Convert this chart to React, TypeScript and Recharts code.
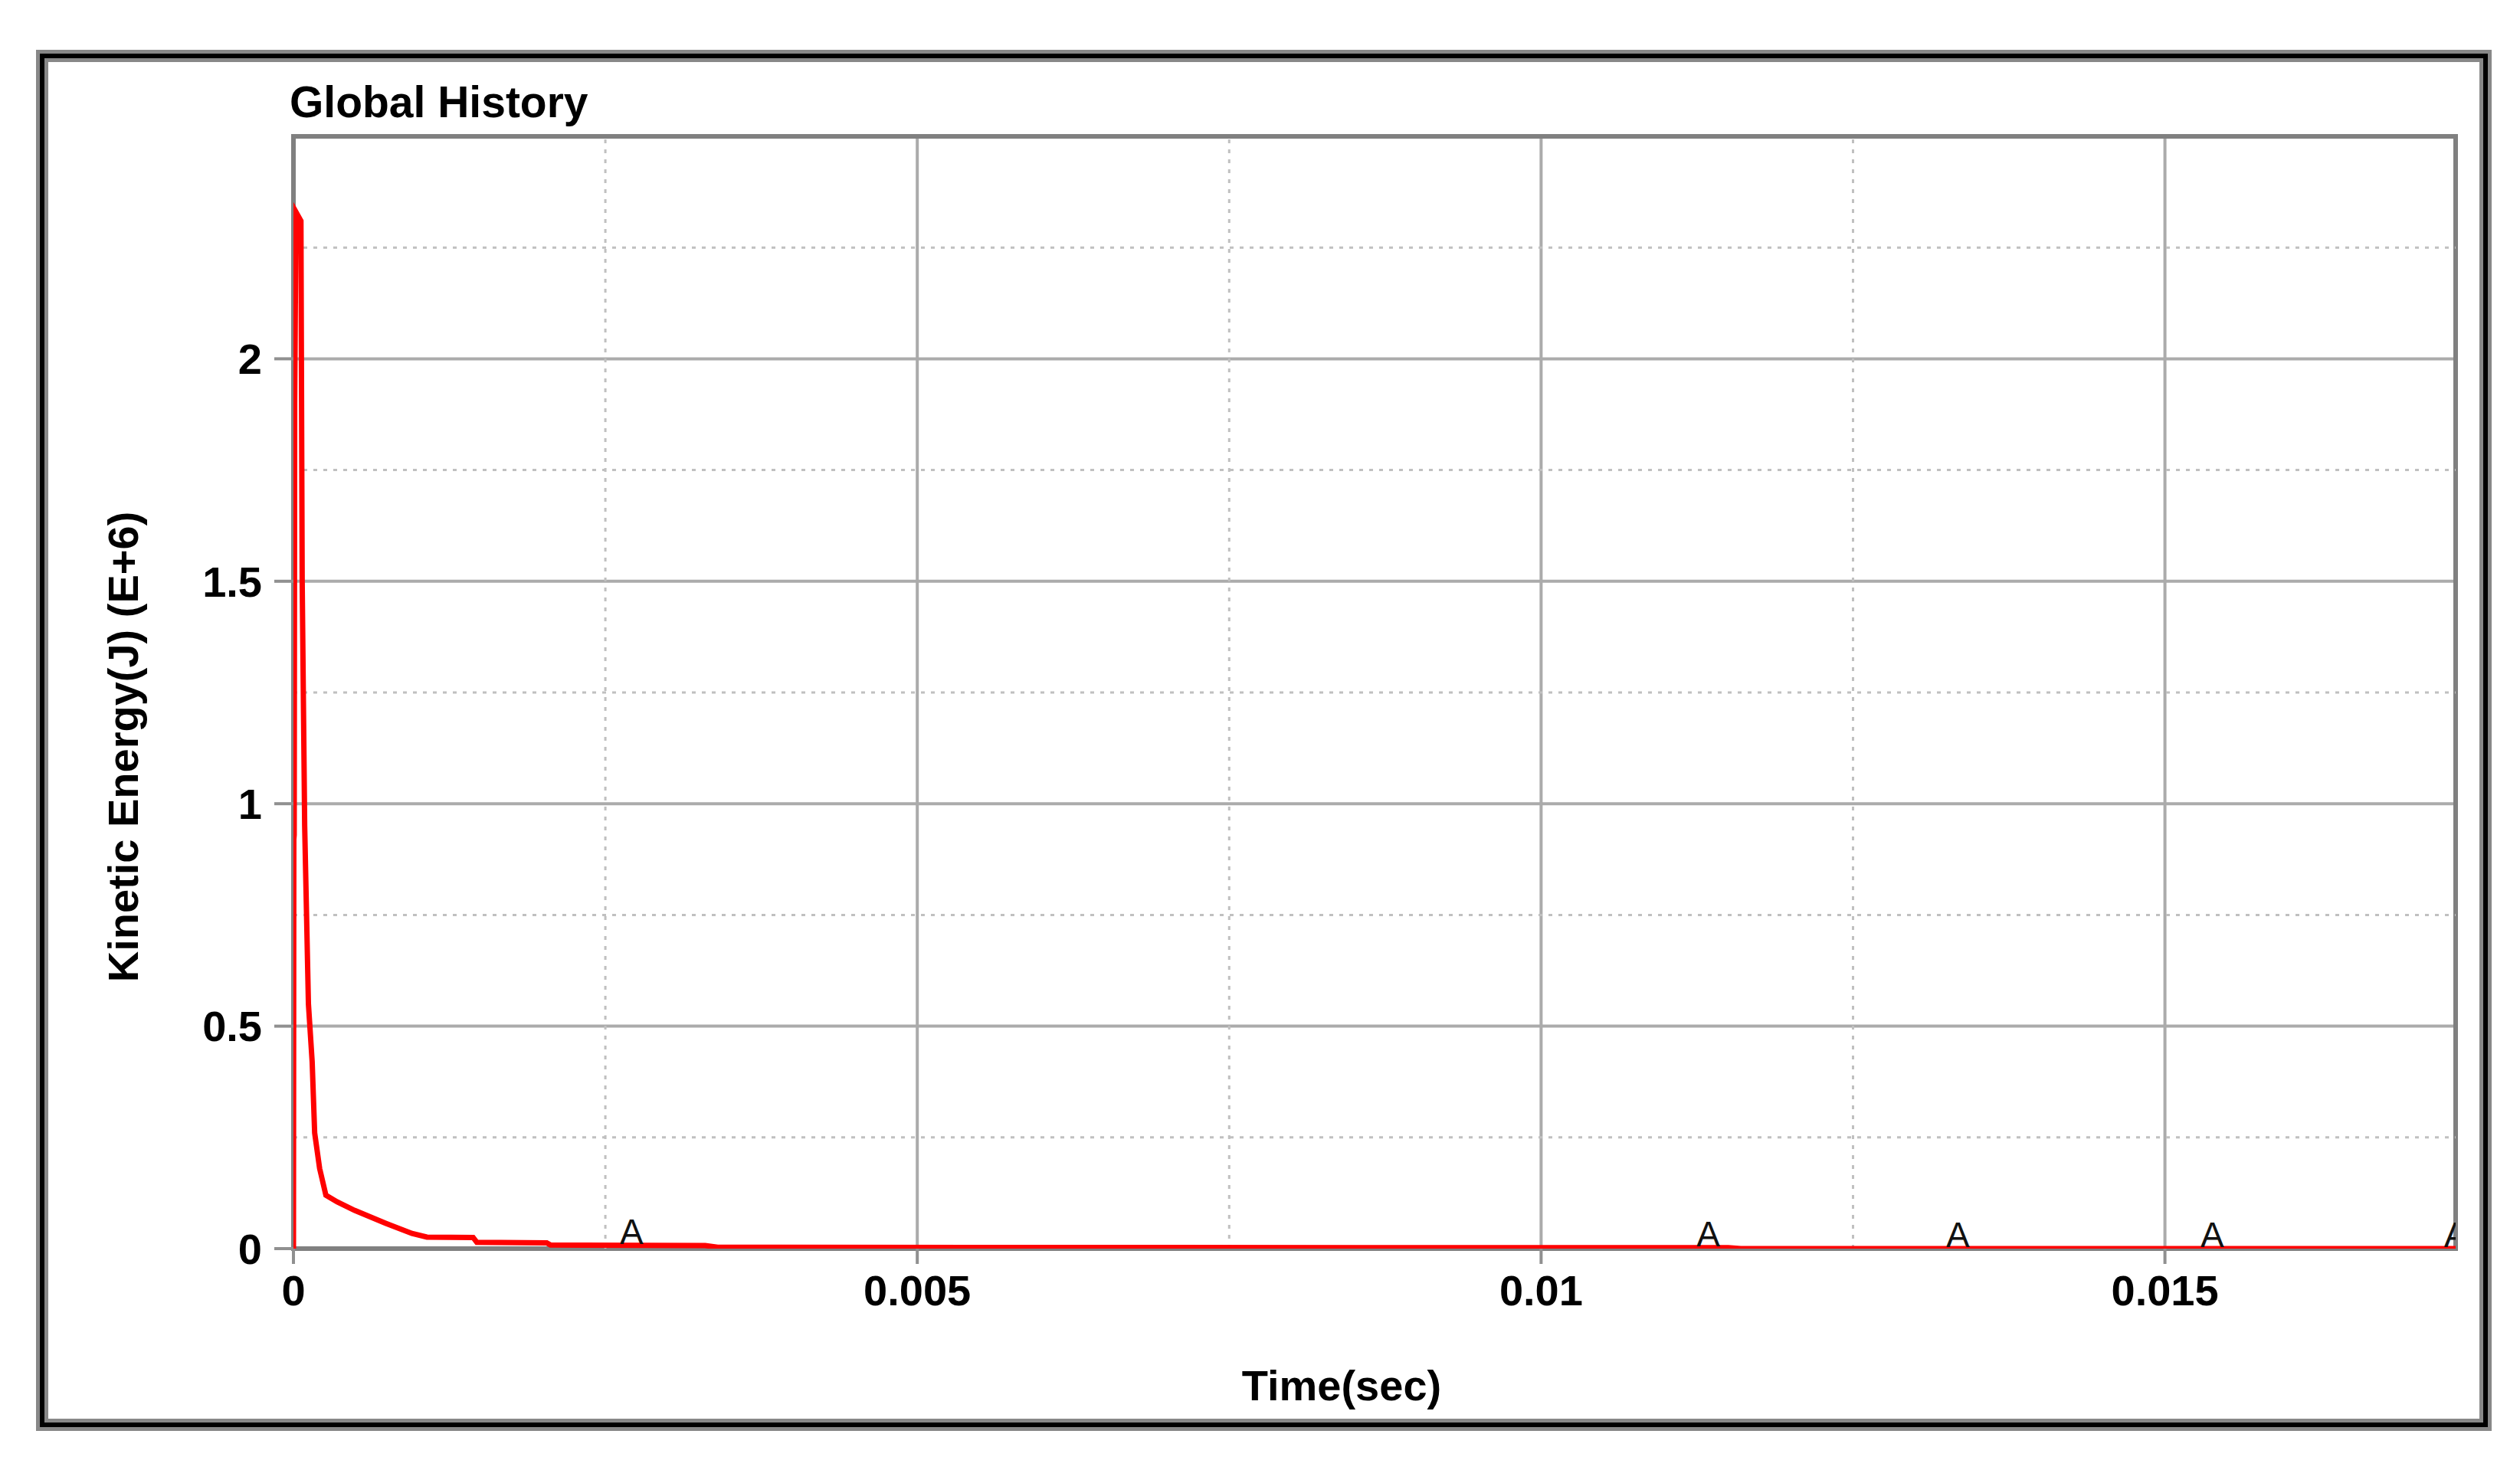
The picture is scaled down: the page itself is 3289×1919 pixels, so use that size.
import React from 'react';
import {
  LineChart,
  Line,
  XAxis,
  YAxis,
  CartesianGrid,
  ReferenceLine,
  ReferenceArea,
  Scatter,
} from 'recharts';

// time (sec) and kinetic energy (J, E+6)
const times = [
  0, 0.000003, 0.000006, 0.00001, 0.00002, 0.00006, 0.00007, 0.00009, 0.00012,
  0.00015, 0.00017, 0.00021, 0.00026, 0.00035, 0.00049, 0.00074, 0.00095,
  0.00107, 0.00144, 0.00147, 0.00203, 0.00206, 0.0033, 0.0034, 0.0115, 0.0116,
  0.01733,
];
const energy = [
  0, 0.92, 0.93, 1.9, 2.33, 2.31, 1.5, 0.95, 0.55, 0.42, 0.26, 0.18, 0.12,
  0.105, 0.086, 0.057, 0.034, 0.026, 0.025, 0.014, 0.013, 0.008, 0.007, 0.003,
  0.002, 0, 0,
];

// "A" curve markers
const markerTimes = [0.00271, 0.01134, 0.01334, 0.01538, 0.01733];
const markerValues = [0.007, 0.002, 0, 0, 0];

const xTicks = [0, 0.005, 0.01, 0.015];
const yTicks = [0, 0.5, 1, 1.5, 2];
const xMinor = [0.0025, 0.0075, 0.0125];
const yMinor = [0.25, 0.75, 1.25, 1.75, 2.25];

const X_MAX = 0.01733;
const Y_MAX = 2.5;

const FONT = '"Liberation Sans", Arial, sans-serif';

const data = times.map((t, i) => ({ t, ke: energy[i] }));
const markers = markerTimes.map((t, i) => ({ t, ke: markerValues[i] }));

const MarkerA = (props: any) => {
  const { cx, cy } = props;
  return (
    <text
      x={cx}
      y={cy - 2}
      textAnchor="middle"
      fontFamily={FONT}
      fontSize={46}
      fill="#111"
    >
      A
    </text>
  );
};

export default function App() {
  const tickStyle = { fill: '#000', fontSize: 56, fontWeight: 700, fontFamily: FONT };
  return (
    <div style={{ position: 'absolute', left: 0, top: 0, width: 3289, height: 1919, background: '#fff' }}>
      <div
        style={{
          position: 'absolute',
          left: 52,
          top: 70,
          width: 3195 - 12,
          height: 1793 - 12,
          border: '6px solid #000',
          boxShadow: '0 0 0 5px #888, inset 0 0 0 5px #888',
        }}
      />
      <div style={{ position: 'absolute', left: 0, top: 0 }}>
        <LineChart
          width={3289}
          height={1919}
          data={data}
          margin={{ top: 178, right: 84, left: 283, bottom: 189 }}
        >
          <CartesianGrid stroke="#ababab" strokeWidth={4} />
          {xMinor.map((v) => (
            <ReferenceLine key={`vx-${v}`} x={v} stroke="#c0c0c0" strokeWidth={3} strokeDasharray="5 8" />
          ))}
          {yMinor.map((v) => (
            <ReferenceLine key={`hy-${v}`} y={v} stroke="#c0c0c0" strokeWidth={3} strokeDasharray="5 8" />
          ))}
          <ReferenceArea
            x1={0}
            x2={X_MAX}
            y1={0}
            y2={Y_MAX}
            fill="none"
            stroke="#808080"
            strokeWidth={6}
          />
          <XAxis
            dataKey="t"
            type="number"
            domain={[0, X_MAX]}
            ticks={xTicks}
            allowDataOverflow
            height={100}
            axisLine={false}
            tickLine={{ stroke: '#909090', strokeWidth: 4 }}
            tickSize={20}
            tickMargin={14}
            tick={tickStyle}
            interval={0}
          />
          <YAxis
            type="number"
            domain={[0, Y_MAX]}
            ticks={yTicks}
            allowDataOverflow
            width={100}
            axisLine={false}
            tickLine={{ stroke: '#909090', strokeWidth: 4 }}
            tickSize={25}
            tickMargin={16}
            tick={tickStyle}
            interval={0}
          />
          <Line
            dataKey="ke"
            type="linear"
            stroke="#ff0000"
            strokeWidth={7}
            dot={false}
            isAnimationActive={false}
          />
          <Scatter
            data={markers}
            dataKey="ke"
            shape={<MarkerA />}
            isAnimationActive={false}
          />
        </LineChart>
      </div>
      <svg
        width={3289}
        height={1919}
        style={{ position: 'absolute', left: 0, top: 0, pointerEvents: 'none' }}
      >
        <text x={378} y={153} fontFamily={FONT} fontSize={57} fontWeight={700} fill="#000">
          Global History
        </text>
        <text x={1751} y={1828} textAnchor="middle" fontFamily={FONT} fontSize={56} fontWeight={700} fill="#000">
          Time(sec)
        </text>
        <text
          x={180}
          y={975}
          textAnchor="middle"
          transform="rotate(-90, 180, 975)"
          fontFamily={FONT}
          fontSize={56}
          fontWeight={700}
          fill="#000"
        >
          Kinetic Energy(J) (E+6)
        </text>
      </svg>
    </div>
  );
}
